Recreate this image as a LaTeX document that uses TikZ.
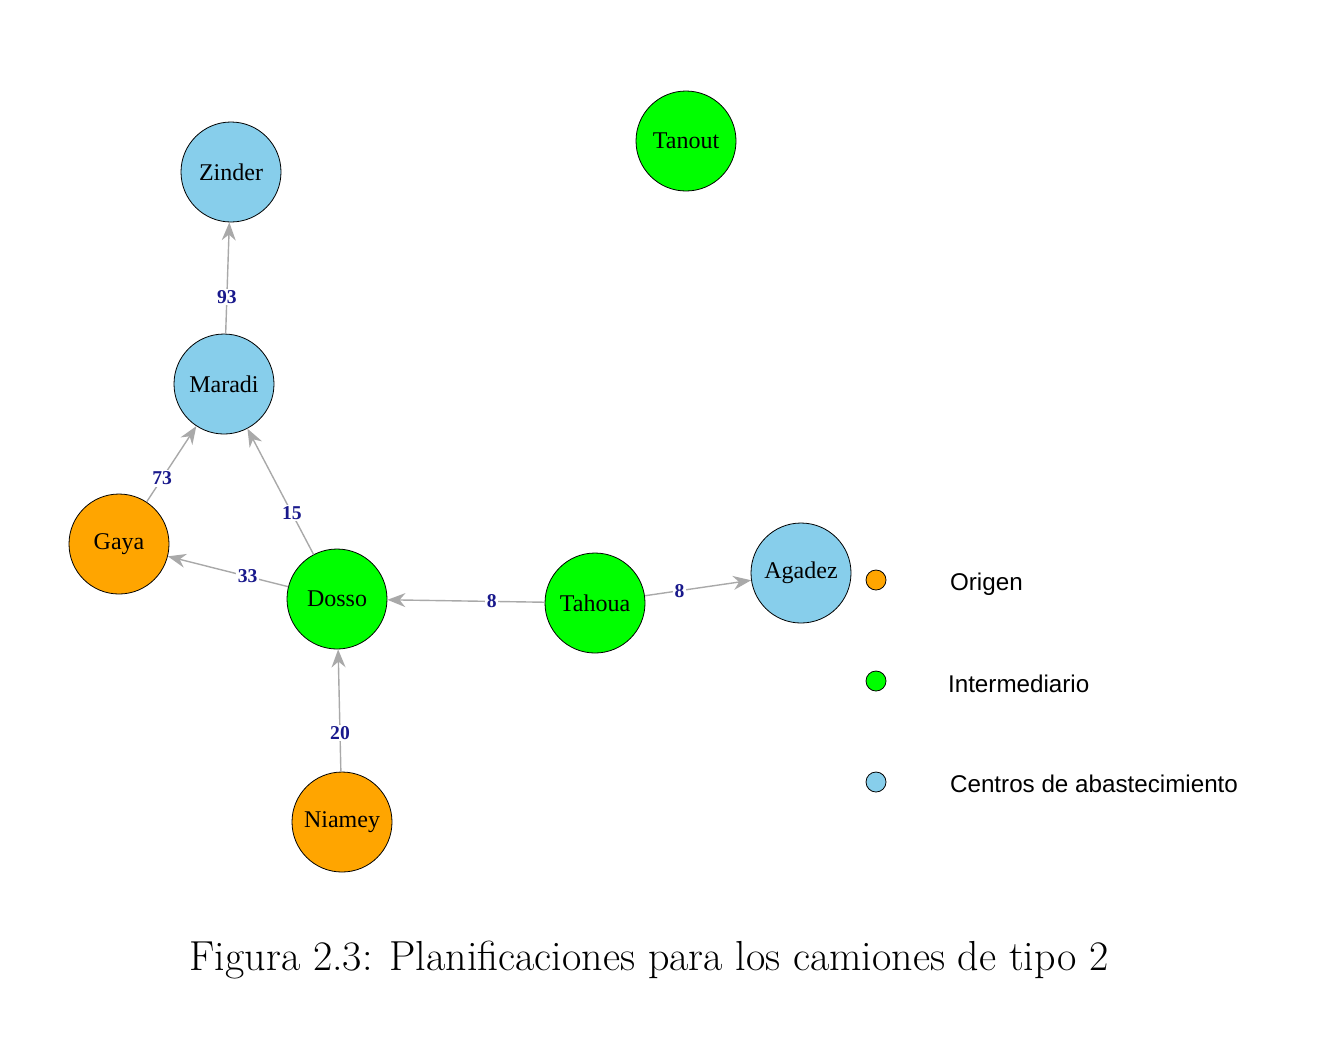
\documentclass[tikz,border=0pt]{standalone}
\usepackage{fontspec}
\newfontfamily\nodefont{Liberation Serif}
\newfontfamily\legfont{Liberation Sans}
\usetikzlibrary{arrows.meta}
\definecolor{orig}{HTML}{FFA500}
\definecolor{inter}{HTML}{00FF00}
\definecolor{centro}{HTML}{87CEEB}
\definecolor{lblblue}{rgb}{0.10,0.10,0.55}
\definecolor{edgegray}{HTML}{A9A9A9}
\tikzset{
  vert/.style={circle,draw=black,line width=0.4pt,minimum size=50pt,inner sep=0pt,font=\nodefont\fontsize{12}{13}\selectfont},
  legdot/.style={circle,draw=black,line width=0.4pt,minimum size=10pt,inner sep=0pt},
  legtxt/.style={anchor=west,font=\legfont\fontsize{12.1}{13}\selectfont},
  edge/.style={draw=edgegray,line width=0.7pt,-{Stealth[length=9pt,width=7pt]}},
  lbl/.style={fill=white,inner sep=0.8pt,text=lblblue,font=\nodefont\bfseries\fontsize{9.8}{10}\selectfont},
}
\begin{document}
\begin{tikzpicture}[x=0.5pt,y=-0.5pt]
\useasboundingbox (0,0) rectangle (1325,1062);
\node[vert,fill=centro] (zinder) at (231,172) {Zinder};
\node[vert,fill=inter] (tanout) at (686,141) {Tanout};
\node[vert,fill=centro] (maradi) at (224,384) {Maradi};
\node[vert,fill=orig] (gaya) at (119,544) {Gaya};
\node[vert,fill=inter] (dosso) at (337,599) {Dosso};
\node[vert,fill=inter] (tahoua) at (595,603) {Tahoua};
\node[vert,fill=centro] (agadez) at (801,573) {Agadez};
\node[vert,fill=orig] (niamey) at (342,822) {Niamey};
\draw[edge] (maradi) -- (zinder);
\draw[edge] (gaya) -- (maradi);
\draw[edge] (dosso) -- (maradi);
\draw[edge] (dosso) -- (gaya);
\draw[edge] (tahoua) -- (dosso);
\draw[edge] (tahoua) -- (agadez);
\draw[edge] (niamey) -- (dosso);
\path (maradi.center) -- node[lbl,pos=0.41] (l1) {93} (zinder.center);
\path (gaya.center) -- node[lbl,pos=0.41] (l2) {73} (maradi.center);
\path (dosso.center) -- node[lbl,pos=0.40] (l3) {15} (maradi.center);
\path (dosso.center) -- node[lbl,pos=0.41] (l4) {33} (gaya.center);
\path (tahoua.center) -- node[lbl,pos=0.40] (l5) {8} (dosso.center);
\path (tahoua.center) -- node[lbl,pos=0.41] (l6) {8} (agadez.center);
\path (niamey.center) -- node[lbl,pos=0.40] (l7) {20} (dosso.center);
\node[legdot,fill=orig] (d1) at (876,580) {};
\node[legdot,fill=inter] (d2) at (876,681) {};
\node[legdot,fill=centro] (d3) at (876,782) {};
\node[legtxt] (t1) at (943,584) {Origen};
\node[legtxt] (t2) at (941,684) {Intermediario};
\node[legtxt] (t3) at (943,784) {Centros de abastecimiento};
\node[font=\fontsize{21}{24}\selectfont] (cap) at (649,960) {Figura 2.3: Planificaciones para los camiones de tipo 2};
\end{tikzpicture}
\end{document}
